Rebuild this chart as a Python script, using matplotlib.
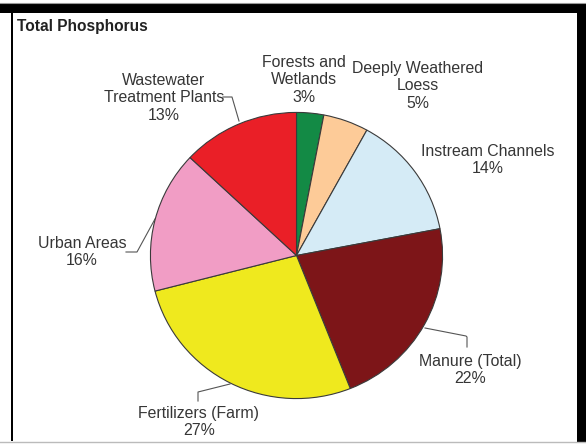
import matplotlib
matplotlib.use("Agg")
import matplotlib.pyplot as plt
from matplotlib.patches import Rectangle

categories = ["Forests and\nWetlands", "Deeply Weathered\nLoess", "Instream Channels",
              "Manure (Total)", "Fertilizers (Farm)", "Urban Areas",
              "Wastewater\nTreatment Plants"]
shares = [3, 5, 14, 22, 27, 16, 13]
colors = ["#138a45", "#fdcb98", "#d5ebf6", "#7d1518", "#efe91e", "#f19dc5", "#ea1f27"]
title = "Total Phosphorus"

W, H = 586, 445
fig = plt.figure(figsize=(W / 100, H / 100), dpi=100)
plt.rcParams['font.family'] = ['Liberation Sans', 'DejaVu Sans']

# background axes in pixel coordinates (y downwards)
bg = fig.add_axes([0, 0, 1, 1])
bg.set_xlim(0, W)
bg.set_ylim(H, 0)
bg.axis("off")

# frame
bg.add_patch(Rectangle((0, 3), W, 10, color="black", lw=0))
bg.add_patch(Rectangle((577, 3), 9, 440, color="black", lw=0))
bg.add_patch(Rectangle((10.5, 3), 2.5, 438, color="black", lw=0))
bg.plot([0, W], [2.5, 2.5], color="#999999", lw=0.8)
bg.plot([0, W], [441.5, 441.5], color="#bbbbbb", lw=1.0)

bg.text(17, 31, title, fontsize=11.2, fontweight="bold", color="#222222",
        ha="left", va="baseline")

# pie axes: positioned over the pie's bounding box
px0, px1, py0, py1 = 150, 443, 112, 399
pa = fig.add_axes([px0 / W, (H - py1) / H, (px1 - px0) / W, (py1 - py0) / H])
pa.pie(shares, colors=colors, startangle=90, counterclock=False, radius=1,
       wedgeprops=dict(edgecolor="#3a3a3a", linewidth=0.8))
pa.set_aspect("auto")
pa.set_xlim(-1.003, 1.003)
pa.set_ylim(-1.003, 1.003)
pa.axis("off")

# labels (text block centres, pixel coords)
label_pos = [(304, 80), (418, 86), (488, 160), (470, 370), (199, 422), (82, 252), (164, 98)]
for cat, val, (x, y) in zip(categories, shares, label_pos):
    bg.text(x, y, f"{cat}\n{val}%", fontsize=11.4, color="#363636", ha="center",
            va="center", linespacing=1.22)

# leader lines
lc = dict(color="#555555", lw=0.8)
bg.plot([425, 466, 467, 467], [328, 336, 337, 347], **lc)
bg.plot([230, 198, 198], [384, 392, 401], **lc)
bg.plot([126, 137, 155], [252, 252, 219], **lc)
bg.plot([223, 232, 239], [97, 97, 121], **lc)

fig.savefig("out.png", dpi=100)
